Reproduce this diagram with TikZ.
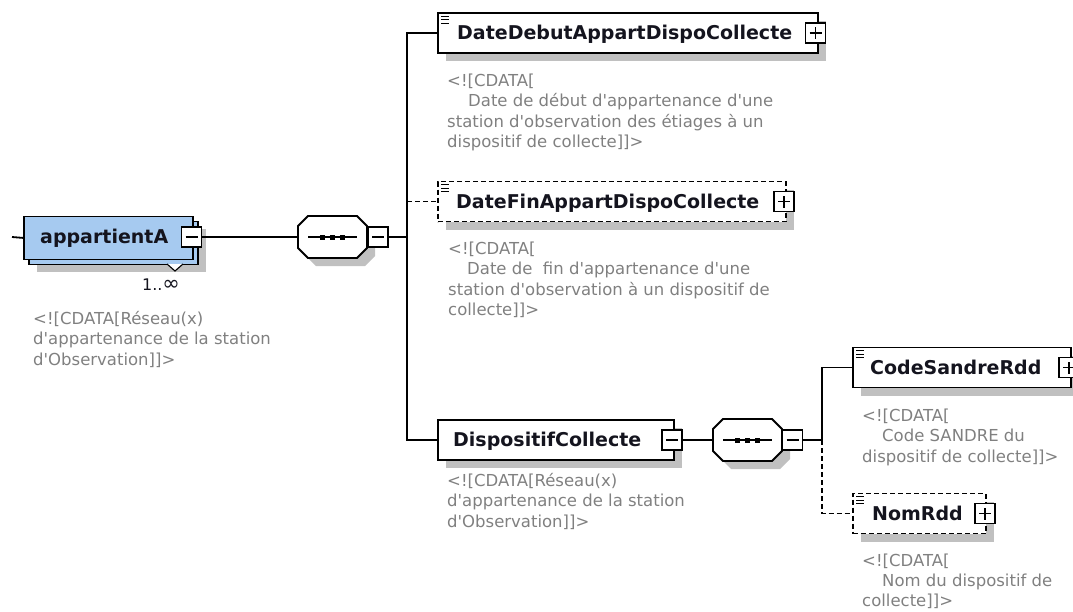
\documentclass[tikz,border=0pt]{standalone}
\usepackage{fontspec}
\setmainfont{DejaVu Sans}[Ligatures=TeXOff]
\usetikzlibrary{shadows}
\definecolor{elblue}{RGB}{166,202,240}
\definecolor{shadowgray}{RGB}{192,192,192}
\definecolor{notegray}{RGB}{128,128,128}
\definecolor{labink}{RGB}{20,20,30}
\tikzset{
  conn/.style={line width=1.8pt, draw=black},
  optconn/.style={conn, dash pattern=on 5pt off 3pt},
  dropshadow/.style={general shadow={fill=shadowgray, shadow xshift=8pt, shadow yshift=-8pt}},
  elbox/.style={draw=black, line width=1.8pt, fill=white, minimum height=40pt, inner sep=0pt, anchor=west, dropshadow},
  optbox/.style={elbox, dash pattern=on 5pt off 3pt},
  lab/.style={anchor=base west, inner sep=0pt, text=labink, font=\fontsize{19}{23}\selectfont\bfseries},
  note/.style={anchor=north west, inner sep=0pt, align=left, text=notegray, font=\fontsize{16.5}{20.5}\selectfont},
  tog/.style={draw=black, line width=1.4pt, fill=white, minimum size=20pt, inner sep=0pt},
  minusbox/.style={tog, path picture={\draw[line width=1.4pt] ([xshift=-6pt]path picture bounding box.center) -- ([xshift=6pt]path picture bounding box.center);}},
  plusbox/.style={tog, path picture={\draw[line width=1.4pt] ([xshift=-6pt]path picture bounding box.center) -- ([xshift=6pt]path picture bounding box.center) ([yshift=-6pt]path picture bounding box.center) -- ([yshift=6pt]path picture bounding box.center);}},
  hub/.style={inner sep=0pt, minimum width=69pt, minimum height=42pt},
  icon/.style={line width=1pt, draw=black},
  seqfill/.style={fill=white, draw=black, line width=1.8pt},
}
\begin{document}
\begin{tikzpicture}[x=1pt, y=-1pt, line join=miter]
\useasboundingbox (0,0) rectangle (1073,611);

% ---------- appartientA ----------
\coordinate (in0) at (12,237);
\node[draw=black, line width=1.8pt, fill=elblue, minimum width=169pt, minimum height=43pt,
      inner sep=0pt, anchor=north west,
      general shadow={fill=shadowgray, shadow xshift=13pt, shadow yshift=-13pt},
      general shadow={fill=elblue, draw=black, line width=1.8pt, shadow xshift=5pt, shadow yshift=-5pt}]
      (appA) at (23,215.5) {};
\fill[white] (167,264) -- (175,271) -- (183,264) -- cycle;
\draw[line width=1.1pt] (167,264) -- (175,271) -- (183,264);
\node[minusbox] (appAm) at (191.5,237) {};
\node[lab] (appAt) at (40,243.5) {appartientA};
\node[font=\fontsize{16}{19}\selectfont, text=labink, inner sep=0pt] (appAc) at (161,285) {1..{\fontsize{21}{19}\selectfont ∞}};
\node[note] (appAn) at (33,309.65) {\strut<![CDATA[Réseau(x)\\d'appartenance de la station\\d'Observation]]>};
\draw[conn] (in0) -- (appA.west);

% ---------- sequence 1 ----------
\node[hub] (seq1) at (332.5,237) {};
\fill[shadowgray, shift={(8,8)}] (308,216) -- (357,216) -- (367,226) -- (367,248) -- (357,258) -- (308,258) -- (298,248) -- (298,226) -- cycle;
\draw[seqfill] (308,216) -- (357,216) -- (367,226) -- (367,248) -- (357,258) -- (308,258) -- (298,248) -- (298,226) -- cycle;
\draw[line width=1.6pt] (308,237) -- (357,237);
\fill (320,234.5) rectangle ++(5,5);
\fill (330,234.5) rectangle ++(5,5);
\fill (340,234.5) rectangle ++(5,5);
\node[minusbox] (seq1m) at (378,237) {};
\draw[conn] (appAm.east) -- (seq1.west);
\coordinate (j1) at (407,237);
\draw[conn] (seq1m.east) -- (j1);

% ---------- level 1 elements ----------
\node[elbox, minimum width=380pt] (dd) at (437,33) {};
\node[plusbox] (ddp) at (815.5,33) {};
\node[lab] (ddt) at (457,39.5) {DateDebutAppartDispoCollecte};
\draw[icon] ([shift={(4,4)}]dd.north west) -- ++(8,0) ([shift={(4,7.5)}]dd.north west) -- ++(8,0) ([shift={(4,11)}]dd.north west) -- ++(8,0);
\node[note] (ddn) at (447,71.65) {\strut<![CDATA[\\\hspace*{21pt}Date de début d'appartenance d'une\\station d'observation des étiages à un\\dispositif de collecte]]>};

\node[optbox, minimum width=348pt] (df) at (437,201.5) {};
\node[plusbox] (dfp) at (784,201.5) {};
\node[lab] (dft) at (456,208) {DateFinAppartDispoCollecte};
\draw[icon] ([shift={(4,4)}]df.north west) -- ++(8,0) ([shift={(4,7.5)}]df.north west) -- ++(8,0) ([shift={(4,11)}]df.north west) -- ++(8,0);
\node[note] (dfn) at (448,239.65) {\strut<![CDATA[\\\hspace*{19pt}Date de~ fin d'appartenance d'une\\station d'observation à un dispositif de\\collecte]]>};

\node[elbox, minimum width=236pt] (dc) at (437,440) {};
\node[minusbox] (dcm) at (672,440) {};
\node[lab] (dct) at (453,446.5) {DispositifCollecte};
\node[note] (dcn) at (447,471.65) {\strut<![CDATA[Réseau(x)\\d'appartenance de la station\\d'Observation]]>};

\draw[conn] (j1) |- (dd.west);
\draw[conn] (j1) |- (dc.west);
\draw[optconn] (j1 |- df.west) -- (df.west);

% ---------- sequence 2 ----------
\node[hub] (seq2) at (747.5,440) {};
\fill[shadowgray, shift={(8,8)}] (723,419) -- (772,419) -- (782,429) -- (782,451) -- (772,461) -- (723,461) -- (713,451) -- (713,429) -- cycle;
\draw[seqfill] (723,419) -- (772,419) -- (782,429) -- (782,451) -- (772,461) -- (723,461) -- (713,451) -- (713,429) -- cycle;
\draw[line width=1.6pt] (723,440) -- (772,440);
\fill (735,437.5) rectangle ++(5,5);
\fill (745,437.5) rectangle ++(5,5);
\fill (755,437.5) rectangle ++(5,5);
\node[minusbox] (seq2m) at (792.5,440) {};
\draw[conn] (dcm.east) -- (seq2.west);
\coordinate (j2) at (822,440);
\draw[conn] (seq2m.east) -- (j2);

% ---------- level 2 elements ----------
\node[elbox, minimum width=218pt] (cs) at (852,367.5) {};
\node[plusbox] (csp) at (1069,367.5) {};
\node[lab] (cst) at (870,374) {CodeSandreRdd};
\draw[icon] ([shift={(4,4)}]cs.north west) -- ++(8,0) ([shift={(4,7.5)}]cs.north west) -- ++(8,0) ([shift={(4,11)}]cs.north west) -- ++(8,0);
\node[note] (csn) at (862,406.65) {\strut<![CDATA[\\\hspace*{20pt}Code SANDRE du\\dispositif de collecte]]>};

\node[optbox, minimum width=133pt] (nr) at (852,513.5) {};
\node[plusbox] (nrp) at (985,513.5) {};
\node[lab] (nrt) at (872,520) {NomRdd};
\draw[icon] ([shift={(4,4)}]nr.north west) -- ++(8,0) ([shift={(4,7.5)}]nr.north west) -- ++(8,0) ([shift={(4,11)}]nr.north west) -- ++(8,0);
\node[note, font=\fontsize{16.5}{20}\selectfont] (nrn) at (862,552.65) {\strut<![CDATA[\\\hspace*{20pt}Nom du dispositif de\\collecte]]>};

\draw[conn] (j2) |- (cs.west);
\draw[optconn] (j2) |- (nr.west);
\end{tikzpicture}
\end{document}
